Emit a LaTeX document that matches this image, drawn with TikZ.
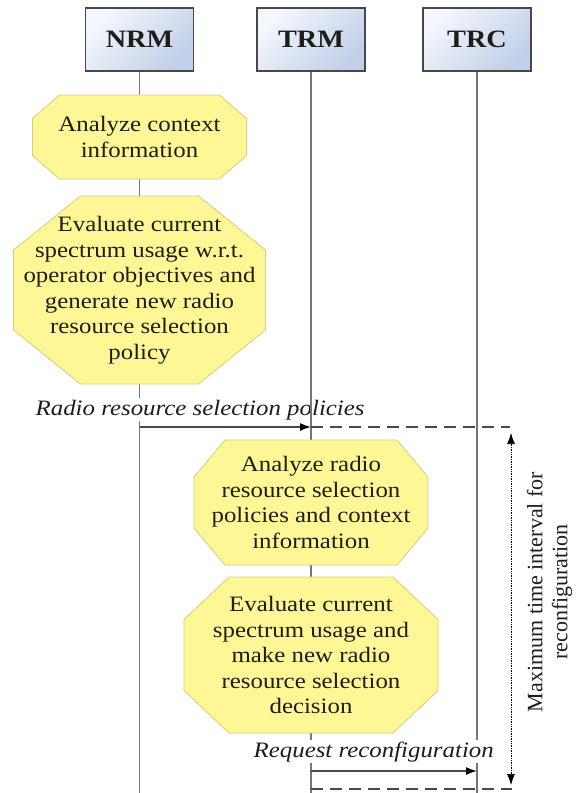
\documentclass[tikz,border=0pt]{standalone}
\usepackage{fontspec}
\setmainfont{Liberation Serif}[FakeStretch=1.13]
\newfontfamily\uprightserif{Liberation Serif}
\usetikzlibrary{arrows.meta}

\definecolor{octfillc}{RGB}{255,246,150}
\definecolor{octdrawc}{RGB}{214,206,130}
\definecolor{boxtopc}{RGB}{244,247,253}
\definecolor{boxbotc}{RGB}{194,207,232}
\definecolor{boxdrawc}{RGB}{72,72,72}
\definecolor{lifec}{RGB}{118,118,118}
\definecolor{inkc}{RGB}{30,30,24}

\tikzset{
  entity/.style={draw=boxdrawc, line width=1.5pt, minimum width=108pt,
    minimum height=63pt, inner sep=0pt, top color=boxtopc,
    bottom color=boxbotc, shading angle=45, text=inkc,
    font=\fontsize{25}{28}\selectfont\bfseries},
  lifeline/.style={draw=lifec, line width=1.8pt},
  octfill/.style={fill=octfillc, draw=octdrawc, line width=0.8pt},
  octtext/.style={align=center, text=inkc, inner sep=0pt,
    font=\fontsize{22}{25.5}\selectfont},
  msglabel/.style={anchor=base west, fill=white, inner sep=1.5pt,
    text=inkc, font=\fontsize{22}{25}\selectfont\itshape},
  msg/.style={draw=boxdrawc, line width=1.5pt,
    -{Latex[length=11pt,width=8pt,color=black]}},
  deadline/.style={draw=boxdrawc, line width=1.5pt,
    dash pattern=on 12pt off 7pt},
  span/.style={draw=black, line width=0.7pt, densely dotted,
    {Latex[length=11pt,width=8pt]}-{Latex[length=11pt,width=8pt]}},
  spantext/.style={rotate=90, align=center, text=inkc, inner sep=0pt,
    font=\uprightserif\fontsize{22}{25}\selectfont}
}

% octagon: name, centre x, centre y, half width, half height,
% corner cut in x, corner cut in y, text
\newcommand\octagonnode[8]{%
  \draw[octfill] (#2-#4+#6,#3-#5) -- (#2+#4-#6,#3-#5) -- (#2+#4,#3-#5+#7)
    -- (#2+#4,#3+#5-#7) -- (#2+#4-#6,#3+#5) -- (#2-#4+#6,#3+#5)
    -- (#2-#4,#3+#5-#7) -- (#2-#4,#3-#5+#7) -- cycle;
  \node[octtext] (#1) at (#2,#3) {#8};
}

\begin{document}
\begin{tikzpicture}[x=1pt,y=-1pt]
  \fill[white] (0,0) rectangle (579,793);
  \useasboundingbox (0,0) rectangle (579,793);

  % entities
  \node[entity] (nrm) at (139.5,39.5) {NRM};
  \node[entity] (trm) at (311,39.5) {TRM};
  \node[entity] (trc) at (477,39.5) {TRC};

  \coordinate (bottom) at (0,793);
  \coordinate (ybot) at (nrm.south |- bottom);
  \coordinate (zbot) at (trm.south |- bottom);
  \coordinate (wbot) at (trc.south |- bottom);

  % lifelines and message labels (labels mask the lines behind them)
  \draw[lifeline] (nrm.south) -- (ybot);
  \draw[lifeline] (trc.south) -- (wbot);
  \node[msglabel] (policies) at (34,415) {Radio resource selection policies};
  \draw[lifeline] (trm.south) -- (zbot);
  \node[msglabel] (request) at (252,757) {Request reconfiguration};

  % processing steps
  \octagonnode{s1}{139.5}{137}{107}{42}{27}{23.5}{Analyze context\\information}
  \octagonnode{s2}{139.5}{290}{126}{94}{67}{54}{Evaluate current\\spectrum usage w.r.t.\\operator objectives and\\generate new radio\\resource selection\\policy}
  \octagonnode{s3}{311}{502.5}{117}{62.5}{31}{37}{Analyze radio\\resource selection\\policies and context\\information}
  \octagonnode{s4}{311}{655}{127}{78}{45}{42.5}{Evaluate current\\spectrum usage and\\make new radio\\resource selection\\decision}

  % messages
  \coordinate (m1) at (0,427);
  \coordinate (m2) at (0,771);
  \coordinate (m3) at (0,789);
  \coordinate (d1) at (510,427);
  \coordinate (d2) at (512,789);
  \draw[msg] (nrm.south |- m1) -- (trm.south |- m1);
  \draw[deadline] (trm.south |- m1) -- (d1);
  \draw[msg] (trm.south |- m2) -- (trc.south |- m2);
  \draw[deadline] (trm.south |- m3) -- (d2);

  % time interval
  \coordinate (spantop) at (511,433);
  \coordinate (spanbot) at (511,785);
  \draw[span] (spantop) -- (spanbot);
  \node[spantext] (interval) at (549.5,592) {Maximum time interval for\\reconfiguration};
\end{tikzpicture}
\end{document}
